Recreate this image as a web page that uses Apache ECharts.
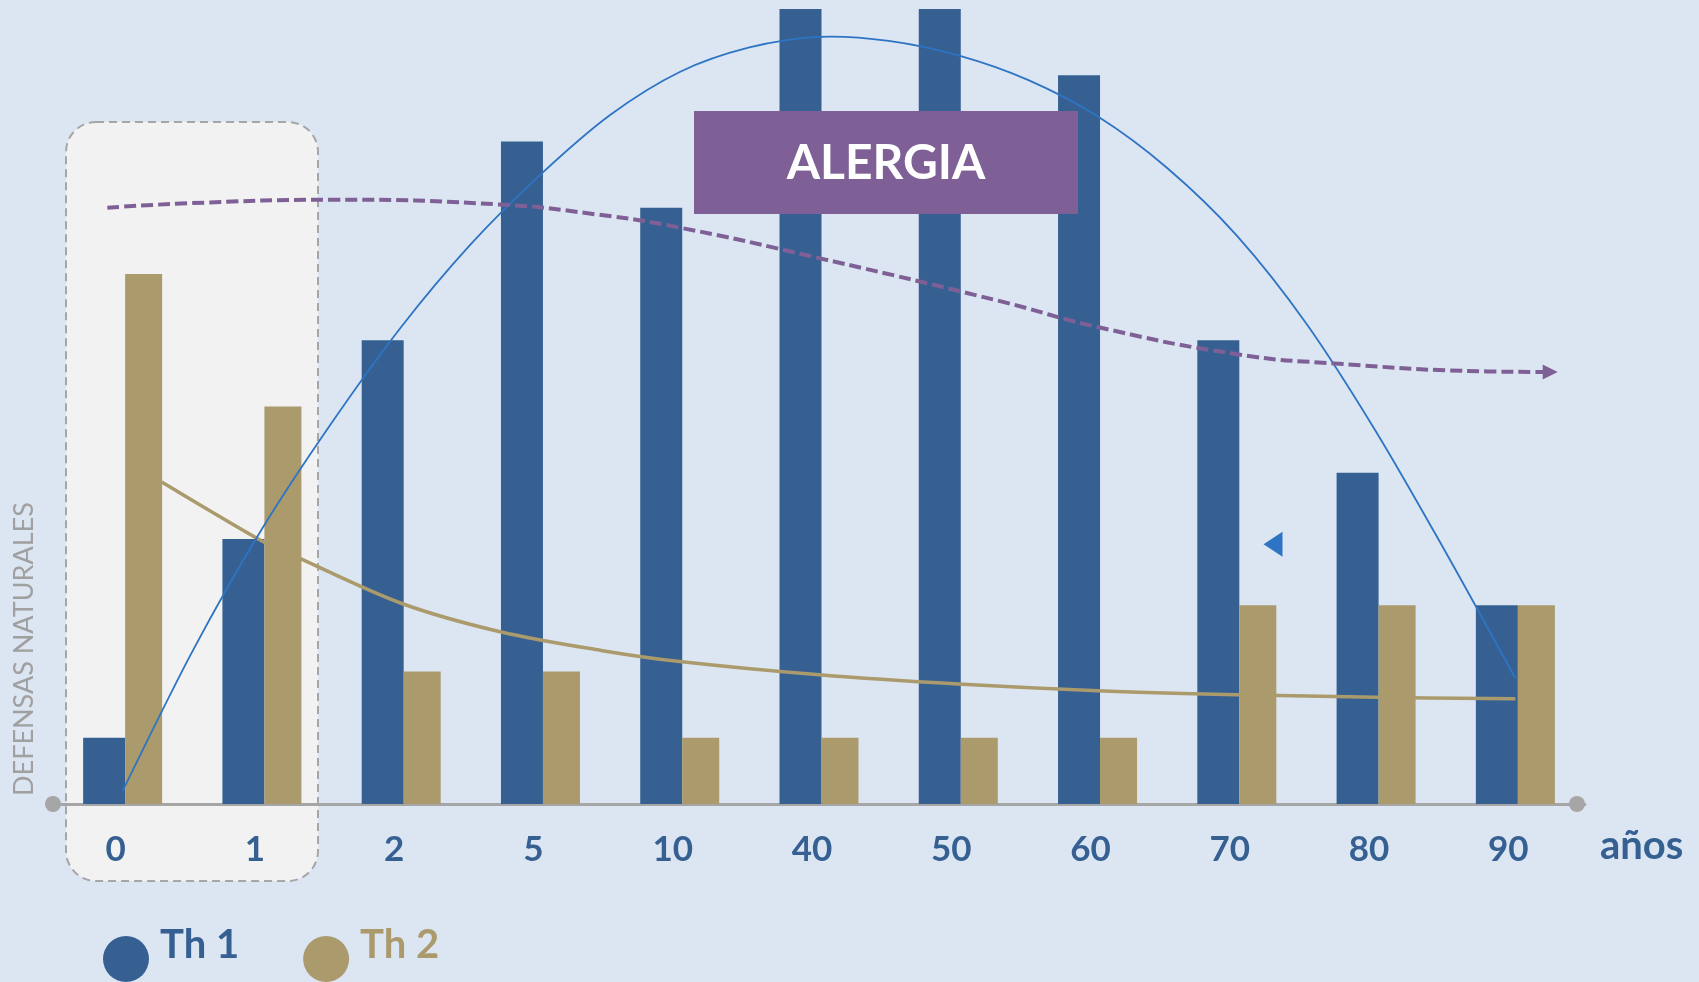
<!DOCTYPE html>
<html>
<head>
<meta charset="utf-8">
<script src="https://cdn.jsdelivr.net/npm/echarts@6/dist/echarts.min.js"></script>
<style>
  html, body { margin: 0; padding: 0; background: #dce6f2; }
  #chart { width: 1699px; height: 982px; }
</style>
</head>
<body>
<div id="chart"></div>
<script>
// Age groups (years) and the level of each T-helper response
const ages = ['0', '1', '2', '5', '10', '40', '50', '60', '70', '80', '90'];
const th1 = [1, 4, 7, 10, 9, 12, 12, 11, 7, 5, 3];
const th2 = [8, 6, 2, 2, 1, 1, 1, 1, 3, 3, 3];

// Trend curves: [position along the age axis (0 = first group), level]
const th1Trend = [[0, 0.2], [0.5, 2.3], [1, 4.15], [1.5, 5.75], [2, 7.2], [2.5, 8.45],
                  [3, 9.5], [3.5, 10.4], [4, 11.05], [4.5, 11.42], [5, 11.58], [5.5, 11.52],
                  [6, 11.3], [6.5, 10.93], [7, 10.38], [7.5, 9.6], [8, 8.58], [8.5, 7.25],
                  [9, 5.62], [9.5, 3.8], [10, 1.9]];
const th2Trend = [[0.28, 4.86], [1, 3.97], [1.28, 3.7], [2, 3.03], [2.71, 2.6], [3.43, 2.32],
                  [4, 2.15], [5, 1.95], [6, 1.81], [7, 1.71], [8, 1.65], [9, 1.61], [10, 1.59]];
const allergyTrend = [[-0.11, 9.0], [0.5, 9.07], [1.5, 9.12], [2.7, 9.05], [3.4, 8.9],
                      [4, 8.7], [5, 8.24], [6.3, 7.59], [7, 7.2], [8, 6.79], [8.7, 6.65],
                      [9.8, 6.53], [10.25, 6.52]];
const pointer = [[8.26, 3.92]];

const BLUE = '#366092';
const TAN = '#aa9a6c';
const PURPLE = '#7f6096';
const LINE_BLUE = '#2e74c4';
const GREY = '#a6a6a6';
const FONT = 'Lato, "Open Sans", sans-serif';

const chart = echarts.init(document.getElementById('chart'), null, { renderer: 'canvas' });

// Smooth curve through the points of a trend (Catmull-Rom as cubic Béziers),
// positioned through the chart's own axes.
function trendCurve(points, color, width) {
  return function (params, api) {
    if (params.dataIndex !== 0) return null;
    const p = points.map(d => api.coord(d));
    let path = 'M' + p[0][0] + ' ' + p[0][1];
    for (let i = 0; i < p.length - 1; i++) {
      const p0 = p[Math.max(i - 1, 0)], p1 = p[i], p2 = p[i + 1], p3 = p[Math.min(i + 2, p.length - 1)];
      const c1x = p1[0] + (p2[0] - p0[0]) / 6, c1y = p1[1] + (p2[1] - p0[1]) / 6;
      const c2x = p2[0] - (p3[0] - p1[0]) / 6, c2y = p2[1] - (p3[1] - p1[1]) / 6;
      path += ' C' + c1x + ' ' + c1y + ' ' + c2x + ' ' + c2y + ' ' + p2[0] + ' ' + p2[1];
    }
    return {
      type: 'path',
      shape: { pathData: path },
      style: { fill: 'none', stroke: color, lineWidth: width }
    };
  };
}

const allergyData = allergyTrend.map((p, i) =>
  i === allergyTrend.length - 1
    ? { value: p, symbol: 'triangle', symbolSize: [15, 15], symbolRotate: -90 }
    : { value: p, symbol: 'none' });

const legendText = { fontFamily: FONT, fontWeight: 'bold', fontSize: 40, padding: [0, 0, 28, 6] };

chart.setOption({
  backgroundColor: '#dce6f2',
  animation: false,
  grid: { left: 53, right: 114, top: 9, bottom: 178, containLabel: false },
  legend: {
    left: 103, top: 925, padding: 0,
    icon: 'circle', itemWidth: 46, itemHeight: 46, itemGap: 64,
    selectedMode: false,
    data: ['Th 1', 'Th 2'],
    formatter: name => (name === 'Th 1' ? '{a|' : '{b|') + name + '}',
    textStyle: {
      rich: {
        a: Object.assign({ color: BLUE }, legendText),
        b: Object.assign({ color: TAN }, legendText)
      }
    }
  },
  xAxis: [
    {
      type: 'category',
      data: ages,
      axisLine: {
        lineStyle: { color: GREY, width: 3 },
        symbol: ['circle', 'circle'], symbolSize: [16, 16], symbolOffset: [0, -8]
      },
      axisTick: { show: false },
      axisLabel: {
        color: BLUE, fontFamily: FONT, fontWeight: 'bold', fontSize: 35,
        margin: 28, padding: [0, 14, 0, 0]
      },
      splitLine: { show: false },
      name: '{n|años}',
      nameLocation: 'end',
      nameGap: 15,
      nameTextStyle: {
        align: 'left', verticalAlign: 'middle',
        rich: {
          n: { color: BLUE, fontFamily: FONT, fontWeight: 'bold', fontSize: 40, padding: [84, 0, 0, 0] }
        }
      }
    },
    { type: 'value', min: -0.5, max: 10.5, show: false }
  ],
  yAxis: { type: 'value', min: 0, max: 12, show: false },
  graphic: [
    {
      type: 'rect', z: -10,
      shape: { x: 66, y: 122, width: 252, height: 759, r: 30 },
      style: { fill: '#f2f2f2', stroke: GREY, lineWidth: 2, lineDash: [8, 5] }
    },
    {
      type: 'rect', z: 100,
      shape: { x: 694, y: 111, width: 384, height: 103 },
      style: { fill: PURPLE }
    },
    {
      type: 'text', z: 101, x: 886, y: 164,
      style: { text: 'ALERGIA', fill: '#ffffff', font: 'bold 48px ' + FONT, align: 'center', verticalAlign: 'middle' }
    },
    {
      type: 'text', x: 24, y: 796, rotation: Math.PI / 2,
      style: { text: 'DEFENSAS NATURALES', fill: '#a0a0a0', font: '27px ' + FONT, align: 'left', verticalAlign: 'middle' }
    }
  ],
  series: [
    {
      name: 'Th 1', type: 'bar', data: th1, barWidth: 42, barGap: '0%',
      itemStyle: { color: BLUE }, z: 2
    },
    {
      name: 'Th 2', type: 'bar', data: th2, barWidth: 37, barGap: '0%',
      itemStyle: { color: TAN }, z: 2
    },
    {
      name: 'Th 2 tendencia', type: 'custom', xAxisIndex: 1, data: th2Trend, silent: true,
      renderItem: trendCurve(th2Trend, TAN, 3.5), z: 5
    },
    {
      name: 'Th 1 tendencia', type: 'custom', xAxisIndex: 1, data: th1Trend, silent: true,
      renderItem: trendCurve(th1Trend, LINE_BLUE, 1.8), z: 6
    },
    {
      name: 'Alergia', type: 'line', xAxisIndex: 1, data: allergyData,
      smooth: true, showSymbol: true, symbol: 'none', silent: true,
      itemStyle: { color: PURPLE },
      lineStyle: { color: PURPLE, width: 4, type: [12, 5] }, z: 7
    },
    {
      name: 'marcador', type: 'scatter', xAxisIndex: 1, data: pointer, silent: true,
      symbol: 'triangle', symbolSize: [25, 19], symbolRotate: 90,
      itemStyle: { color: LINE_BLUE, opacity: 1 }, z: 8
    }
  ]
});
</script>
</body>
</html>
